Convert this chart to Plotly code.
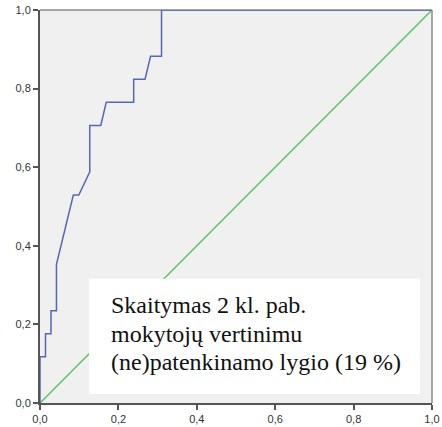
import plotly.graph_objects as go

# ROC curve points (1 - specificity, sensitivity)
fpr = [0.0, 0.0, 0.014, 0.014, 0.028, 0.028, 0.042, 0.042, 0.085, 0.099,
       0.127, 0.127, 0.155, 0.169, 0.239, 0.239, 0.268, 0.282, 0.310, 0.310, 1.0]
tpr = [0.0, 0.118, 0.118, 0.176, 0.176, 0.235, 0.235, 0.353, 0.529, 0.529,
       0.588, 0.706, 0.706, 0.765, 0.765, 0.824, 0.824, 0.882, 0.882, 1.0, 1.0]

# Reference diagonal
ref_x = [0.0, 1.0]
ref_y = [0.0, 1.0]

tick_vals = [0.0, 0.2, 0.4, 0.6, 0.8, 1.0]
tick_text = ["0,0", "0,2", "0,4", "0,6", "0,8", "1,0"]

label_lines = ["Skaitymas 2 kl. pab.", "mokytojų vertinimu", "(ne)patenkinamo lygio (19 %)"]

fig = go.Figure()
fig.add_trace(go.Scatter(x=ref_x, y=ref_y, mode="lines",
                         line=dict(color="#5cc35c", width=1.5), hoverinfo="skip"))
fig.add_trace(go.Scatter(x=fpr, y=tpr, mode="lines",
                         line=dict(color="#5668b4", width=1.5), hoverinfo="skip"))

# white label box
fig.add_shape(type="rect", xref="paper", yref="paper", x0=0.125, x1=0.969, y0=0.023, y1=0.316,
              fillcolor="white", line=dict(width=0), layer="above")
# top & right border
fig.add_shape(type="line", xref="paper", yref="paper", x0=0, x1=1, y0=1, y1=1,
              line=dict(color="#8a8a8a", width=1.5), layer="below")
fig.add_shape(type="line", xref="paper", yref="paper", x0=1, x1=1, y0=0, y1=1,
              line=dict(color="#8a8a8a", width=1.5), layer="below")

line_step = 28.5 / 393.0
for i, line in enumerate(label_lines):
    fig.add_annotation(xref="paper", yref="paper", x=0.176, y=0.287 - i * line_step,
                       xanchor="left", yanchor="top", text=line, showarrow=False, align="left",
                       font=dict(family="Liberation Serif", size=24, color="#111111"))

axis_common = dict(range=[0, 1], tickvals=tick_vals, ticktext=tick_text, automargin=False,
                   showgrid=False, zeroline=False, showline=True, linecolor="#555555",
                   linewidth=2, ticks="outside", ticklen=5, tickwidth=2, tickcolor="#555555",
                   tickfont=dict(family="Liberation Sans", size=11, color="#333333"))

fig.update_xaxes(**axis_common)
fig.update_yaxes(**axis_common)

fig.update_layout(width=442, height=427, margin=dict(l=40, r=10, t=10, b=24),
                  plot_bgcolor="#f0f0f0", paper_bgcolor="white", showlegend=False)

fig.write_html("out.html", config={"displayModeBar": False},
               post_script="document.body.style.margin='0';document.body.style.overflow='hidden';")
